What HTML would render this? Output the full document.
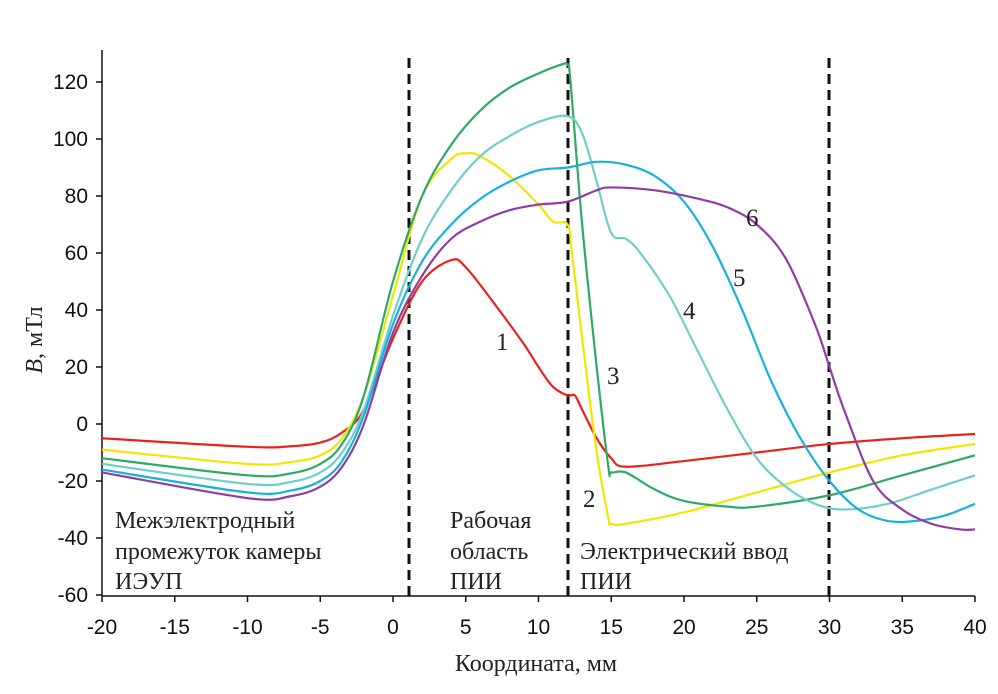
<!DOCTYPE html>
<html><head><meta charset="utf-8"><style>
body{margin:0;background:#fff}
svg{display:block}
.t{font-family:"Liberation Sans",sans-serif;font-size:21px;fill:#111}
.s{font-family:"Liberation Serif",serif;font-size:24px;fill:#222}
.n{font-family:"Liberation Serif",serif;font-size:25px;fill:#222}
</style></head><body>
<svg id="c" width="998" height="694" viewBox="0 0 998 694" xmlns="http://www.w3.org/2000/svg">
<g stroke="#111" stroke-width="1.5">
<line x1="102" y1="50" x2="102" y2="596"/>
<line x1="102" y1="596" x2="975" y2="596"/>
</g>
<g id="ticks" stroke="#111" stroke-width="1.5"></g>
<g id="lbl"></g>
<g stroke="#111" stroke-width="3" stroke-dasharray="10,6">
<line x1="409" y1="58" x2="409" y2="596"/>
<line x1="568" y1="58" x2="568" y2="596"/>
<line x1="829" y1="58" x2="829" y2="596"/>
</g>
<g id="curves" fill="none" stroke-width="2.2" stroke-linejoin="round"></g>
<text class="n" x="496" y="350">1</text>
<text class="n" x="583" y="507">2</text>
<text class="n" x="607" y="384">3</text>
<text class="n" x="683" y="319">4</text>
<text class="n" x="733" y="286">5</text>
<text class="n" x="746" y="226">6</text>
<text class="s" x="115" y="528">Межэлектродный</text>
<text class="s" x="115" y="559">промежуток камеры</text>
<text class="s" x="115" y="589">ИЭУП</text>
<text class="s" x="450" y="528">Рабочая</text>
<text class="s" x="450" y="559">область</text>
<text class="s" x="450" y="589">ПИИ</text>
<text class="s" x="580" y="559">Электрический ввод</text>
<text class="s" x="580" y="589">ПИИ</text>
<text class="s" x="536" y="671" text-anchor="middle">Координата, мм</text>
<text class="s" transform="translate(42,340) rotate(-90)" text-anchor="middle"><tspan font-style="italic">B</tspan>, мТл</text>
</svg>
<script>
var X=function(x){return 393+14.55*x},Y=function(y){return 424-2.85*y};
var ns="http://www.w3.org/2000/svg";
var tk=document.getElementById('ticks'),lb=document.getElementById('lbl');
function el(p,n,a,t){var e=document.createElementNS(ns,n);for(var k in a)e.setAttribute(k,a[k]);if(t!=null)e.textContent=t;p.appendChild(e);}
for(var v=-60;v<=120;v+=20){var y=Y(v);el(tk,'line',{x1:96,y1:y,x2:102,y2:y});el(lb,'text',{'class':'t',x:88,y:y+7,'text-anchor':'end'},v);}
for(var v=-20;v<=40;v+=5){var x=X(v);el(tk,'line',{x1:x,y1:596,x2:x,y2:602});el(lb,'text',{'class':'t',x:x,y:634,'text-anchor':'middle'},v);}
var D=[
['#e8231c',[[-20,-5],[-10,-8],[-7,-7.8],[-5,-6.5],[-3.5,-3],[-2,5],[0,30],[2,50],[4,57.5],[5,55],[7,42],[9,28],[10,20],[11,13],[12,10],[12.5,10],[13,5],[14,-5],[15,-12],[16,-15],[20,-13],[25,-10],[30,-7],[35,-5],[40,-3.5]]],
['#f2e600',[[-20,-9],[-10,-14],[-7,-13.3],[-5,-11],[-3.5,-5],[-2,10],[0,45],[2,80],[4,93],[5,95],[6,94],[8,87],[10,77],[11,71],[12,70],[12.3,60],[13,30],[14,-10],[14.8,-33],[15,-35],[16,-35],[20,-31],[25,-24],[30,-17],[35,-11],[40,-7]]],
['#2daa66',[[-20,-12],[-10,-18],[-7,-17.3],[-5,-14],[-3.5,-7],[-2,10],[0,50],[2,80],[4,98],[6,110],[8,118],[10,123],[11.5,126],[12,126],[12.2,120],[13,70],[14,20],[14.8,-15],[15,-17],[16,-17],[18,-23],[20,-27],[23,-29],[25,-29],[30,-25],[35,-18],[40,-11]]],
['#6fcfc8',[[-20,-14],[-10,-21],[-7,-20.3],[-5,-17],[-3.5,-10],[-2,5],[0,38],[2,65],[4,82],[6,94],[8,101],[10,106],[12,108],[13,102],[14,85],[15,67],[16,65],[17,60],[19,45],[21,25],[23,5],[25,-12],[27,-22],[29,-28],[31,-30],[34,-28],[37,-23],[40,-18]]],
['#1ab0dc',[[-20,-16],[-10,-24],[-7,-23.3],[-5,-20],[-3.5,-13],[-2,3],[0,35],[2,57],[4,70],[6,79],[8,85],[10,89],[12,90],[14,92],[16,91],[18,87],[20,78],[22,62],[24,40],[26,15],[28,-5],[30,-20],[32,-30],[34,-34],[36,-34],[38,-32],[40,-28]]],
['#8c3fa0',[[-20,-17],[-10,-26],[-7,-25.3],[-5,-22],[-3.5,-15],[-2,0],[0,32],[2,52],[4,65],[6,71],[8,75],[10,77],[12,78],[14,82],[15,83],[18,82],[21,79],[23,76],[25,70],[27,58],[29,35],[30,20],[31,5],[33,-20],[35,-30],[37,-35],[39,-37],[40,-37]]]
];
var cg=document.getElementById('curves');
D.forEach(function(s){var p=s[1].map(function(q){return [X(q[0]),Y(q[1])]});
var d='M'+p[0][0]+','+p[0][1];
for(var i=0;i<p.length-1;i++){var p0=p[i-1]||p[i],p1=p[i],p2=p[i+1],p3=p[i+2]||p2;
var c1=[p1[0]+(p2[0]-p0[0])/6,p1[1]+(p2[1]-p0[1])/6],c2=[p2[0]-(p3[0]-p1[0])/6,p2[1]-(p3[1]-p1[1])/6];
d+=' C'+c1+' '+c2+' '+p2;}
el(cg,'path',{d:d,stroke:s[0]});});
</script>
</body></html>
